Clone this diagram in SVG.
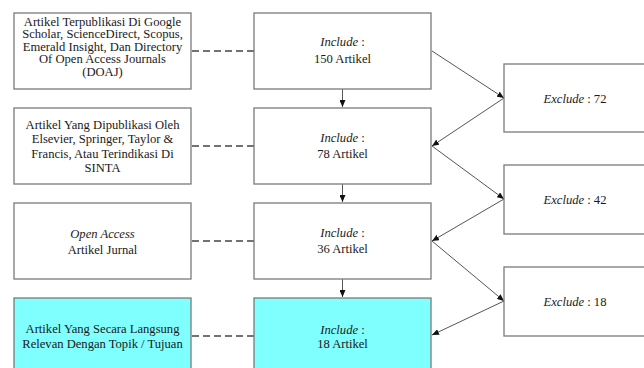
<svg xmlns="http://www.w3.org/2000/svg" width="644" height="368" viewBox="0 0 644 368">
<style>
.box{fill:#ffffff;stroke:#7a7a7a;stroke-width:1.3}
.hl{fill:#80ffff}
.t{font-family:"Liberation Serif","Times New Roman",serif;font-size:12.6px;fill:#1a1a1a;text-anchor:middle}
.i{font-style:italic}
.dash{stroke:#444;stroke-width:1.3;stroke-dasharray:7,4;fill:none}
.arr{stroke:#555;stroke-width:1;fill:none;marker-end:url(#ah)}
</style>
<defs>
<marker id="ah" markerUnits="userSpaceOnUse" markerWidth="7" markerHeight="6" refX="7" refY="3" orient="auto">
<path d="M0,0 L7,3 L0,6 z" fill="#111"/>
</marker>
</defs>
<rect width="644" height="368" fill="#ffffff"/>

<g id="connectors">
<line class="dash" x1="192" y1="51" x2="254" y2="51"/>
<line class="dash" x1="192" y1="146" x2="254" y2="146"/>
<line class="dash" x1="192" y1="241" x2="254" y2="241"/>
<line class="dash" x1="192" y1="336" x2="254" y2="336"/>
<line class="arr" x1="342.5" y1="89" x2="342.5" y2="107"/>
<line class="arr" x1="342.5" y1="184" x2="342.5" y2="202"/>
<line class="arr" x1="342.5" y1="279" x2="342.5" y2="297"/>
<line class="arr" x1="432" y1="51" x2="504" y2="98"/>
<line class="arr" x1="504" y1="98" x2="432" y2="146"/>
<line class="arr" x1="432" y1="146" x2="504" y2="199"/>
<line class="arr" x1="504" y1="199" x2="432" y2="241"/>
<line class="arr" x1="432" y1="241" x2="504" y2="301"/>
<line class="arr" x1="504" y1="301" x2="432" y2="335"/>
</g>

<g id="src1">
<rect class="box" x="14" y="13" width="177" height="76"/>
<text class="t" x="102.5" y="25.5">Artikel Terpublikasi Di Google</text>
<text class="t" x="102.5" y="38">Scholar, ScienceDirect, Scopus,</text>
<text class="t" x="102.5" y="50.5">Emerald Insight, Dan Directory</text>
<text class="t" x="102.5" y="63">Of Open Access Journals</text>
<text class="t" x="102.5" y="75.5">(DOAJ)</text>
</g>
<g id="src2">
<rect class="box" x="14" y="108" width="177" height="76"/>
<text class="t" x="102.5" y="128.5">Artikel Yang Dipublikasi Oleh</text>
<text class="t" x="102.5" y="143">Elsevier, Springer, Taylor &amp;</text>
<text class="t" x="102.5" y="157.5">Francis, Atau Terindikasi Di</text>
<text class="t" x="102.5" y="172">SINTA</text>
</g>
<g id="src3">
<rect class="box" x="14" y="203" width="177" height="76"/>
<text class="t i" x="102.5" y="237.5">Open Access</text>
<text class="t" x="102.5" y="253.5">Artikel Jurnal</text>
</g>
<g id="src4">
<rect class="box hl" x="14" y="298" width="177" height="78"/>
<text class="t" x="102.5" y="333">Artikel Yang Secara Langsung</text>
<text class="t" x="102.5" y="347.5">Relevan Dengan Topik / Tujuan</text>
</g>

<g id="inc1">
<rect class="box" x="254" y="13" width="177" height="76"/>
<text class="t" x="342.5" y="46"><tspan class="i">Include</tspan> :</text>
<text class="t" x="342.5" y="62.5">150 Artikel</text>
</g>
<g id="inc2">
<rect class="box" x="254" y="108" width="177" height="76"/>
<text class="t" x="342.5" y="141.5"><tspan class="i">Include</tspan> :</text>
<text class="t" x="342.5" y="158">78 Artikel</text>
</g>
<g id="inc3">
<rect class="box" x="254" y="203" width="177" height="76"/>
<text class="t" x="342.5" y="236.5"><tspan class="i">Include</tspan> :</text>
<text class="t" x="342.5" y="253">36 Artikel</text>
</g>
<g id="inc4">
<rect class="box hl" x="254" y="298" width="177" height="78"/>
<text class="t" x="342.5" y="333.5"><tspan class="i">Include</tspan> :</text>
<text class="t" x="342.5" y="348">18 Artikel</text>
</g>

<g id="exc1">
<rect class="box" x="504" y="64" width="142" height="68"/>
<text class="t" x="575" y="102.5"><tspan class="i">Exclude</tspan> : 72</text>
</g>
<g id="exc2">
<rect class="box" x="504" y="165" width="142" height="69"/>
<text class="t" x="575" y="204"><tspan class="i">Exclude</tspan> : 42</text>
</g>
<g id="exc3">
<rect class="box" x="504" y="267" width="142" height="69"/>
<text class="t" x="575" y="305.5"><tspan class="i">Exclude</tspan> : 18</text>
</g>
</svg>
